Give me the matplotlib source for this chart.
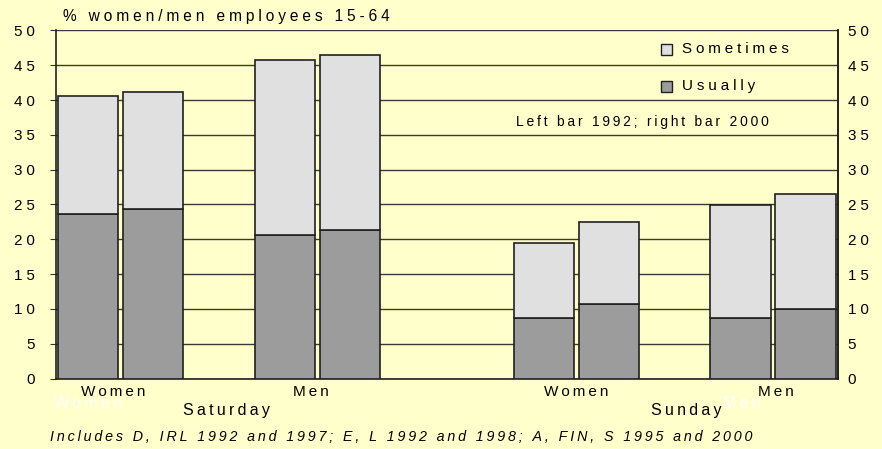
import matplotlib.pyplot as plt
import numpy as np

W, H = 882, 449
BG = "#FFFFCC"

groups = ["Women", "Men", "Women", "Men"]
days = ["Saturday", "Sunday"]
usually_1992 = [23.7, 20.6, 8.7, 8.7]
usually_2000 = [24.3, 21.3, 10.7, 9.95]
total_1992 = [40.6, 45.8, 19.4, 24.9]
total_2000 = [41.1, 46.5, 22.5, 26.5]
sometimes_1992 = [t - u for t, u in zip(total_1992, usually_1992)]
sometimes_2000 = [t - u for t, u in zip(total_2000, usually_2000)]
yticks = [0, 5, 10, 15, 20, 25, 30, 35, 40, 45, 50]

THIN = "\u2009"
WIDE = "\u2005"


def sp(s, gap=THIN):
    # old Excel export spreads letters out
    return gap.join(s)


plt.rcParams["font.family"] = ["Liberation Sans", "DejaVu Sans"]

fig = plt.figure(figsize=(W / 100, H / 100), dpi=100, facecolor=BG)
ax = fig.add_axes([56 / W, 1 - 378.6 / H, (838 - 56) / W, (378.6 - 30.4) / H])
ax.set_facecolor(BG)

pos = np.array([0.0, 1.0, 2.317, 3.312])
bw = 0.305
off = 0.165
ec = "#202020"
c_us = "#9C9C9C"
c_so = "#E0E0E0"

ax.bar(pos - off, usually_1992, bw, color=c_us, edgecolor=ec, lw=1.2, zorder=3)
ax.bar(pos - off, sometimes_1992, bw, bottom=usually_1992, color=c_so, edgecolor=ec, lw=1.2, zorder=3)
ax.bar(pos + off, usually_2000, bw, color=c_us, edgecolor=ec, lw=1.2, zorder=3)
ax.bar(pos + off, sometimes_2000, bw, bottom=usually_2000, color=c_so, edgecolor=ec, lw=1.2, zorder=3)

ax.set_xlim(-0.327, 3.642)
ax.set_ylim(0, 50)
ax.set_yticks(yticks)
ax.set_yticklabels([sp(str(v), WIDE) for v in yticks], fontsize=11)
ax.yaxis.grid(True, color="#3a3a30", lw=1.0, zorder=1)
ax.set_xticks([])
ax.tick_params(axis="y", length=4, color="#333333", pad=11)
ax.spines["top"].set_visible(False)
for s in ["left", "bottom", "right"]:
    ax.spines[s].set_color("#202020")
    ax.spines[s].set_linewidth(1.2)

ax2 = ax.twinx()
ax2.set_ylim(0, 50)
ax2.set_yticks(yticks)
ax2.set_yticklabels([sp(str(v), WIDE) for v in yticks], fontsize=11)
ax2.tick_params(axis="y", length=0, pad=7)
for s in ["top", "left", "bottom"]:
    ax2.spines[s].set_visible(False)
ax2.spines["right"].set_color("#202020")
ax2.spines["right"].set_linewidth(1.2)


def ftext(x, y, s, **kw):
    fig.text(x / W, 1 - y / H, s, **kw)


ftext(63, 17, sp("% women/men employees 15-64", WIDE), fontsize=11.2, va="center")

# category labels under each pair of bars
label_x = [113, 311, 576, 776]
for xp, g in zip(label_x, groups):
    ftext(xp, 392, sp(g), fontsize=11, ha="center", va="center")
ftext(226, 410, sp(days[0]), fontsize=11.5, ha="center", va="center")
ftext(686, 410, sp(days[1]), fontsize=11.5, ha="center", va="center")
# faint leftover labels
ftext(88, 404, sp("Women"), fontsize=11.5, ha="center", va="center", color="white")
ftext(742, 404, sp("Men"), fontsize=11.5, ha="center", va="center", color="white")

ftext(50, 437, sp("Includes D, IRL 1992 and 1997; E, L 1992 and 1998; A, FIN, S 1995 and 2000"),
      fontsize=10.3, style="italic", va="center")

# legend
for yy, col, lab in [(49, c_so, "Sometimes"), (86, c_us, "Usually")]:
    fig.patches.append(plt.Rectangle((661 / W, 1 - (yy + 6) / H), 11 / W, 11 / H,
                                     facecolor=col, edgecolor="#202020", lw=1,
                                     transform=fig.transFigure, figure=fig))
    ftext(682, yy, sp(lab, WIDE), fontsize=11, va="center")
ftext(642, 122, sp("Left bar 1992; right bar 2000"), fontsize=10, ha="center", va="center")

fig.savefig("out.png", dpi=100, facecolor=BG)
